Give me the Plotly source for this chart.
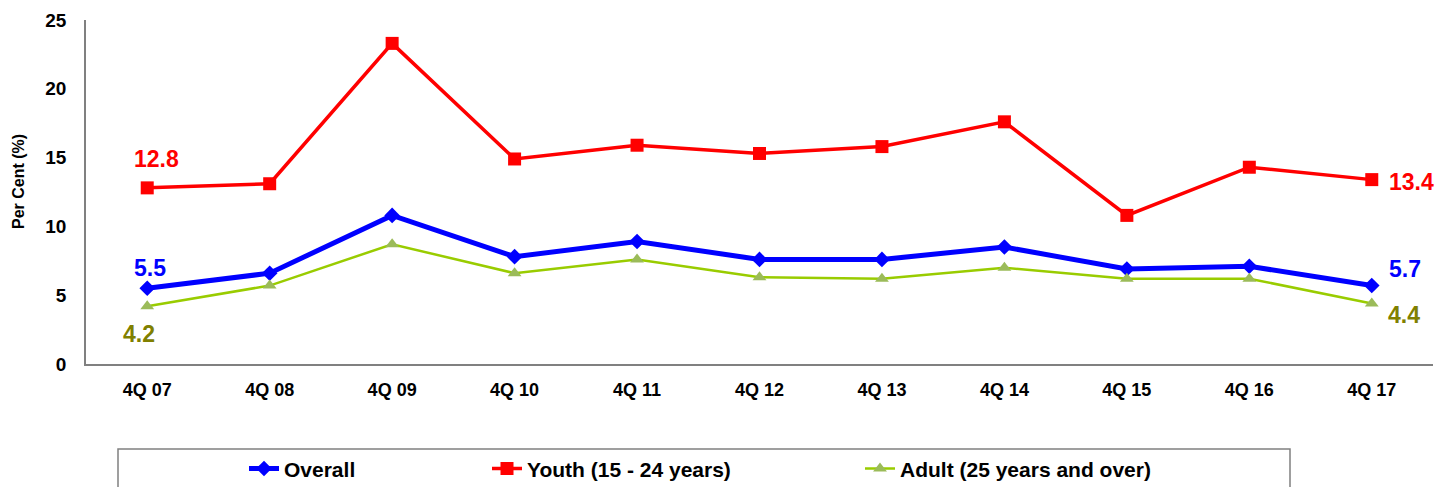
import plotly.graph_objects as go

categories = ["4Q 07", "4Q 08", "4Q 09", "4Q 10", "4Q 11", "4Q 12", "4Q 13", "4Q 14", "4Q 15", "4Q 16", "4Q 17"]
overall = [5.5, 6.6, 10.8, 7.8, 8.9, 7.6, 7.6, 8.5, 6.9, 7.1, 5.7]
youth = [12.8, 13.1, 23.3, 14.9, 15.9, 15.3, 15.8, 17.6, 10.8, 14.3, 13.4]
adult = [4.2, 5.7, 8.7, 6.6, 7.6, 6.3, 6.2, 7.0, 6.2, 6.2, 4.4]
y_ticks = [0, 5, 10, 15, 20, 25]

FONT = "Liberation Sans, Arial, sans-serif"

fig = go.Figure()
fig.add_trace(go.Scatter(x=categories, y=overall, name="Overall", mode="lines+markers",
                         line=dict(color="#0000FF", width=5),
                         marker=dict(symbol="diamond", size=12, color="#0000FF"),
                         legend="legend"))
fig.add_trace(go.Scatter(x=categories, y=youth, name="Youth (15 - 24 years)", mode="lines+markers",
                         line=dict(color="#FF0000", width=3.5),
                         marker=dict(symbol="square", size=13, color="#FF0000"),
                         legend="legend2"))
fig.add_trace(go.Scatter(x=categories, y=adult, name="Adult (25 years and over)", mode="lines+markers",
                         line=dict(color="#99CC00", width=2.5),
                         marker=dict(symbol="triangle-up", size=12, color="#9BBB59"),
                         legend="legend3"))

def lab(i, series, color, xs, ys):
    fig.add_annotation(x=categories[i], y=series[i], xref="x", yref="y",
                       text=f"{series[i]:.1f}", showarrow=False,
                       font=dict(family=FONT, size=23, color=color, weight="bold"),
                       xshift=xs, yshift=ys)

lab(0, youth, "#FF0000", 9, 29)
lab(0, overall, "#0000FF", 3, 20)
lab(0, adult, "#808000", -8, -28)
lab(10, youth, "#FF0000", 40, -2)
lab(10, overall, "#0000FF", 33, 17)
lab(10, adult, "#808000", 32, -12)

fig.add_annotation(xref="paper", yref="paper", x=0, y=(364 - 181.5) / 344, xshift=-(86 - 18.5),
                   text="Per Cent (%)", textangle=-90, showarrow=False, xanchor="center", yanchor="middle",
                   font=dict(family=FONT, size=16, color="#000000", weight="bold"))

fig.add_shape(type="rect", xref="paper", yref="paper", x0=(118-86)/1347, x1=(1290-86)/1347,
              y0=-0.247, y1=-0.6, line=dict(color="#808080", width=1.5), fillcolor="rgba(0,0,0,0)")

legfont = dict(family=FONT, size=21, color="#000000", weight="bold")
def legpos(px):
    return (px - 86) / 1347

fig.update_layout(
    width=1445, height=479,
    margin=dict(l=78, r=20, t=12, b=123, autoexpand=False),
    showlegend=True,
    paper_bgcolor="white", plot_bgcolor="white",
    font=dict(family=FONT, color="#000000"),
    legend=dict(x=legpos(244), y=-0.305, xanchor="left", yanchor="middle", font=legfont,
                bgcolor="rgba(0,0,0,0)", itemwidth=30),
    legend2=dict(x=legpos(487), y=-0.305, xanchor="left", yanchor="middle", font=legfont,
                 bgcolor="rgba(0,0,0,0)", itemwidth=30),
    legend3=dict(x=legpos(860), y=-0.305, xanchor="left", yanchor="middle", font=legfont,
                 bgcolor="rgba(0,0,0,0)", itemwidth=30),
    xaxis=dict(showline=True, linecolor="#808080", linewidth=1.5, showgrid=False,
               tickfont=dict(family=FONT, size=18, color="#000000", weight="bold"), ticks="",
               range=[-0.5, 10.5], zeroline=False, automargin=False, ticklabelstandoff=9),
    yaxis=dict(range=[0, 25], tickvals=y_ticks, showline=True, linecolor="#808080", linewidth=1.5,
               showgrid=False, zeroline=False, ticks="", automargin=False, ticklabelstandoff=14,
               tickfont=dict(family=FONT, size=19, color="#000000", weight="bold")),
)

fig.write_html("out.html")
